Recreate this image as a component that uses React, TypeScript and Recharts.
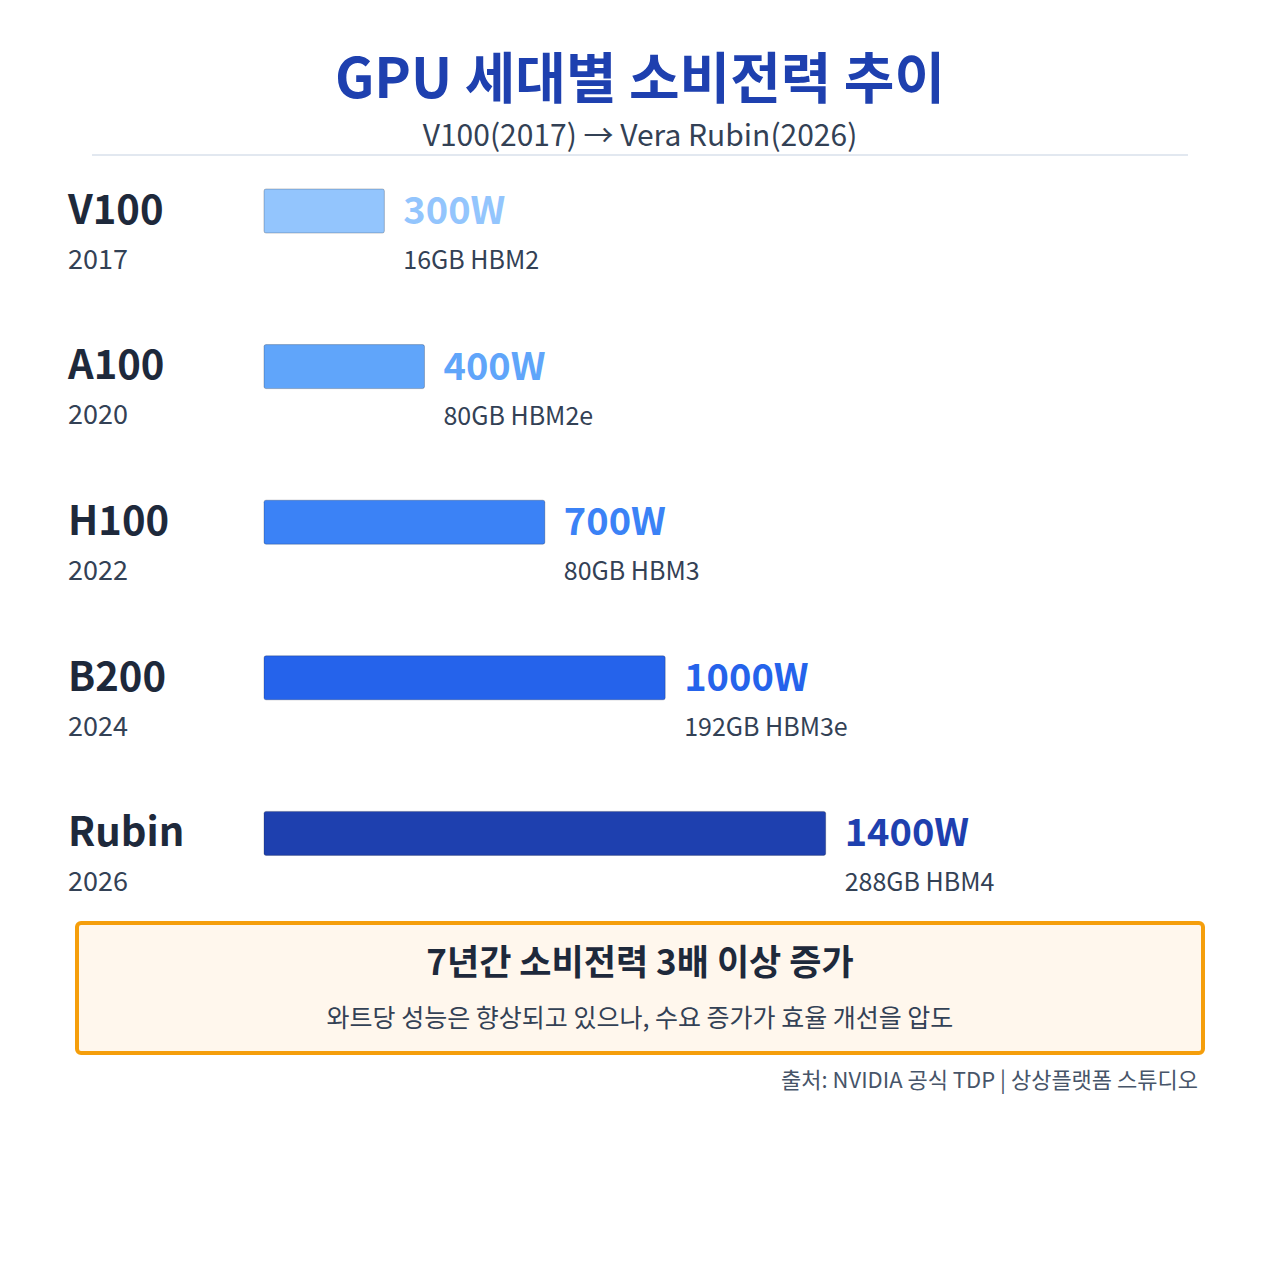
import React from "react"
import { BarChart, Bar, XAxis, YAxis, Cell, LabelList } from "recharts"

// data
const gpuNames = ["V100", "A100", "H100", "B200", "Rubin"]
const releaseYears = ["2017", "2020", "2022", "2024", "2026"]
const powerWatts = [300, 400, 700, 1000, 1400]
const memorySpecs = ["16GB HBM2", "80GB HBM2e", "80GB HBM3", "192GB HBM3e", "288GB HBM4"]
const barColors = ["#93c5fd", "#60a5fa", "#3b82f6", "#2563eb", "#1e40af"]

const chartData = gpuNames.map((name, i) => ({
    name,
    year: releaseYears[i],
    power: powerWatts[i],
    memory: memorySpecs[i],
}))

const FONT = "'Noto Sans CJK KR', 'Noto Sans', sans-serif"

const NameTick = (props: any) => {
    const { y, payload, index } = props
    return (
        <g>
            <text x={68} y={y + 13} fontSize={40} fontWeight={700} fill="#1e293b" fontFamily={FONT}>
                {payload.value}
            </text>
            <text x={68} y={y + 58} fontSize={27} fill="#334155" fontFamily={FONT}>
                {releaseYears[index]}
            </text>
        </g>
    )
}

const ValueLabel = (props: any) => {
    const { x, y, width, index } = props
    const lx = x + width + 19
    return (
        <g>
            <text x={lx} y={y + 35} fontSize={38} fontWeight={700} fill={barColors[index]} fontFamily={FONT}>
                {`${powerWatts[index]}W`}
            </text>
            <text x={lx} y={y + 80} fontSize={25} fill="#334155" fontFamily={FONT}>
                {memorySpecs[index]}
            </text>
        </g>
    )
}

export default function App() {
    return (
        <div style={{ position: "absolute", left: 0, top: 0, width: 1280, height: 1280, background: "#fff", fontFamily: FONT }}>
            <svg width={1280} height={170} style={{ position: "absolute", left: 0, top: 0 }}>
                <text x={640} y={98} textAnchor="middle" fontSize={55} fontWeight={700} fill="#1e40af" fontFamily={FONT}>
                    GPU 세대별 소비전력 추이
                </text>
                <text x={640} y={146} textAnchor="middle" fontSize={30} fill="#334155" fontFamily={FONT}>
                    V100(2017) → Vera Rubin(2026)
                </text>
                <line x1={92} x2={1188} y1={155} y2={155} stroke="#e2e8f0" strokeWidth={2} />
            </svg>

            <div style={{ position: "absolute", left: 0, top: 0 }}>
                <BarChart
                    width={1280}
                    height={920}
                    data={chartData}
                    layout="vertical"
                    margin={{ top: 133, right: 13, bottom: 9, left: 0 }}
                    barCategoryGap={0}
                >
                    <XAxis type="number" domain={[0, 2500]} hide />
                    <YAxis
                        type="category"
                        dataKey="name"
                        width={264}
                        axisLine={false}
                        tickLine={false}
                        tick={<NameTick />}
                    />
                    <Bar dataKey="power" barSize={44} radius={2} isAnimationActive={false}>
                        {chartData.map((d, i) => (
                            <Cell key={d.name} fill={barColors[i]} stroke="rgba(15,23,42,0.25)" strokeWidth={1} />
                        ))}
                        <LabelList dataKey="power" content={<ValueLabel />} />
                    </Bar>
                </BarChart>
            </div>

            <div
                style={{
                    position: "absolute",
                    left: 75,
                    top: 921,
                    width: 1130,
                    height: 134,
                    boxSizing: "border-box",
                    border: "4px solid #f59e0b",
                    borderRadius: 6,
                    background: "#fff7ed",
                }}
            />
            <svg width={1280} height={200} style={{ position: "absolute", left: 0, top: 920 }}>
                <text x={640} y={55} textAnchor="middle" fontSize={35} fontWeight={700} fill="#1e293b" fontFamily={FONT}>
                    7년간 소비전력 3배 이상 증가
                </text>
                <text x={640} y={107} textAnchor="middle" fontSize={25} fill="#334155" fontFamily={FONT}>
                    와트당 성능은 향상되고 있으나, 수요 증가가 효율 개선을 압도
                </text>
                <text x={1198} y={168} textAnchor="end" fontSize={22} fill="#475569" fontFamily={FONT}>
                    출처: NVIDIA 공식 TDP | 상상플랫폼 스튜디오
                </text>
            </svg>
        </div>
    )
}
